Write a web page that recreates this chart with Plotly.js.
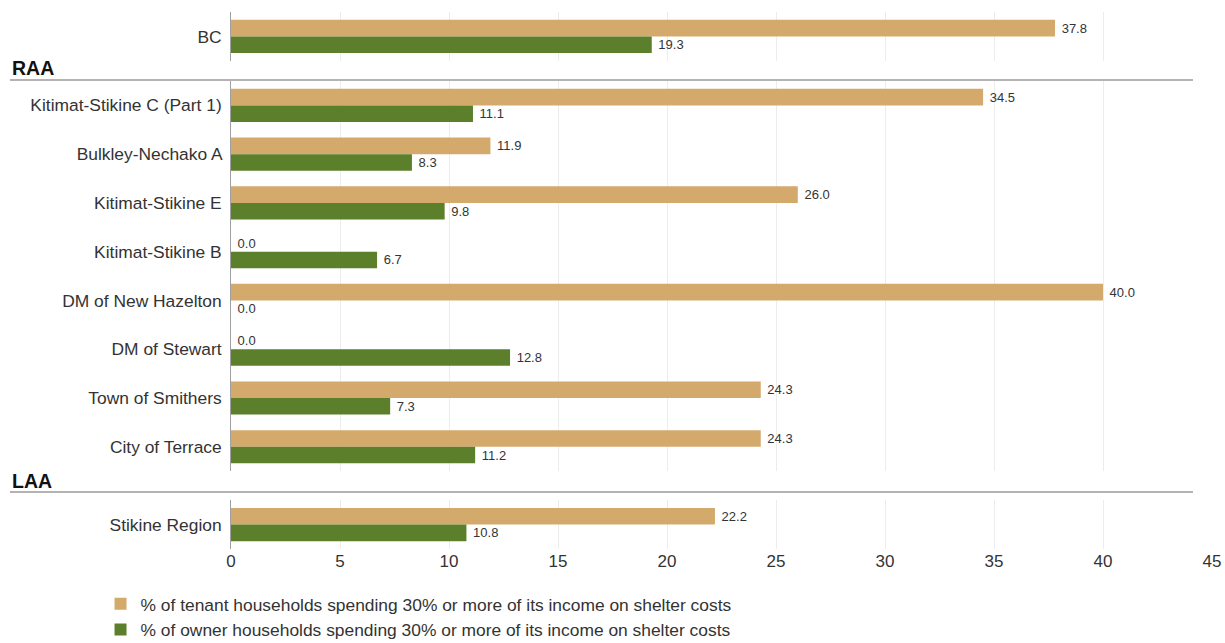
<!DOCTYPE html>
<html><head><meta charset="utf-8">
<script src="https://cdn.plot.ly/plotly-3.0.1.min.js"></script>
<style>html,body{margin:0;padding:0;background:#fff}#chart{width:1225px;height:643px}</style>
</head><body><div id="chart"></div>
<script>
// Data
const bcCats = ["BC"];
const bcTenant = [37.8];
const bcOwner = [19.3];
const raaCats = ["Kitimat-Stikine C (Part 1)", "Bulkley-Nechako A", "Kitimat-Stikine E", "Kitimat-Stikine B", "DM of New Hazelton", "DM of Stewart", "Town of Smithers", "City of Terrace"];
const raaTenant = [34.5, 11.9, 26.0, 0.0, 40.0, 0.0, 24.3, 24.3];
const raaOwner = [11.1, 8.3, 9.8, 6.7, 0.0, 12.8, 7.3, 11.2];
const laaCats = ["Stikine Region"];
const laaTenant = [22.2];
const laaOwner = [10.8];
const sectionLabels = ["RAA", "LAA"];
const tenantName = "% of tenant households spending 30% or more of its income on shelter costs";
const ownerName = "% of owner households spending 30% or more of its income on shelter costs";

const tan = "#d4a96c", green = "#5b7f2b";
const font = "Liberation Sans, Arial, sans-serif";

function bar(name, cats, vals, color, xa, ya, show) {
  return {
    type: "bar", orientation: "h", name: name, y: cats, x: vals,
    xaxis: xa, yaxis: ya, showlegend: show, legendgroup: name,
    marker: {color: color},
    texttemplate: "\u00a0%{x:.1f}", textposition: "outside", cliponaxis: false,
    textfont: {size: 13, color: "#333", family: font},
    hoverinfo: "x+y"
  };
}

const data = [
  bar(tenantName, bcCats, bcTenant, tan, "x3", "y3", true),
  bar(ownerName, bcCats, bcOwner, green, "x3", "y3", true),
  bar(tenantName, raaCats, raaTenant, tan, "x2", "y2", false),
  bar(ownerName, raaCats, raaOwner, green, "x2", "y2", false),
  bar(tenantName, laaCats, laaTenant, tan, "x", "y", false),
  bar(ownerName, laaCats, laaOwner, green, "x", "y", false)
];

const xBase = {range: [0, 45], dtick: 5, showgrid: true, gridcolor: "#ececec", zeroline: false, showline: false, ticks: "", fixedrange: true};
const yBase = {autorange: "reversed", showline: true, linecolor: "#a0a0a0", linewidth: 1, showgrid: false, ticks: "", zeroline: false,
  tickfont: {size: 17.4, color: "#333", family: font}, ticksuffix: " "};

const layout = {
  width: 1225, height: 643,
  margin: {l: 231, r: 13, t: 12, b: 94, autoexpand: false},
  paper_bgcolor: "#fff", plot_bgcolor: "#fff",
  font: {family: font, color: "#333"},
  barmode: "group", bargap: 0.32, bargroupgap: 0,
  xaxis: Object.assign({}, xBase, {anchor: "y", tickfont: {size: 17, color: "#333", family: font}}),
  xaxis2: Object.assign({}, xBase, {anchor: "y2", matches: "x", showticklabels: false}),
  xaxis3: Object.assign({}, xBase, {anchor: "y3", matches: "x", showticklabels: false}),
  yaxis: Object.assign({}, yBase, {domain: [0, 0.091], anchor: "x"}),
  yaxis2: Object.assign({}, yBase, {domain: [0.145, 0.8715], anchor: "x2"}),
  yaxis3: Object.assign({}, yBase, {domain: [0.909, 1], anchor: "x3"}),
  legend: {orientation: "v", x: -0.133, xanchor: "left", y: -0.069, yanchor: "top",
    font: {size: 17.4, color: "#333", family: font}, traceorder: "normal", tracegroupgap: 0, itemwidth: 30},
  shapes: [
    {type: "line", xref: "paper", yref: "paper", x0: -0.2253, x1: 0.9806, y0: 0.8734, y1: 0.8734, line: {color: "#9a9a9a", width: 1.5}},
    {type: "line", xref: "paper", yref: "paper", x0: -0.2253, x1: 0.9806, y0: 0.1061, y1: 0.1061, line: {color: "#9a9a9a", width: 1.5}}
  ],
  annotations: [
    {text: "<b>" + sectionLabels[0] + "</b>", xref: "paper", yref: "paper", x: -0.2253, y: 0.8957, xanchor: "left", yanchor: "middle", showarrow: false, font: {size: 19.5, color: "#111", family: font}},
    {text: "<b>" + sectionLabels[1] + "</b>", xref: "paper", yref: "paper", x: -0.2253, y: 0.1266, xanchor: "left", yanchor: "middle", showarrow: false, font: {size: 19.5, color: "#111", family: font}}
  ]
};

Plotly.newPlot("chart", data, layout, {displayModeBar: false, staticPlot: true});
</script></body></html>
